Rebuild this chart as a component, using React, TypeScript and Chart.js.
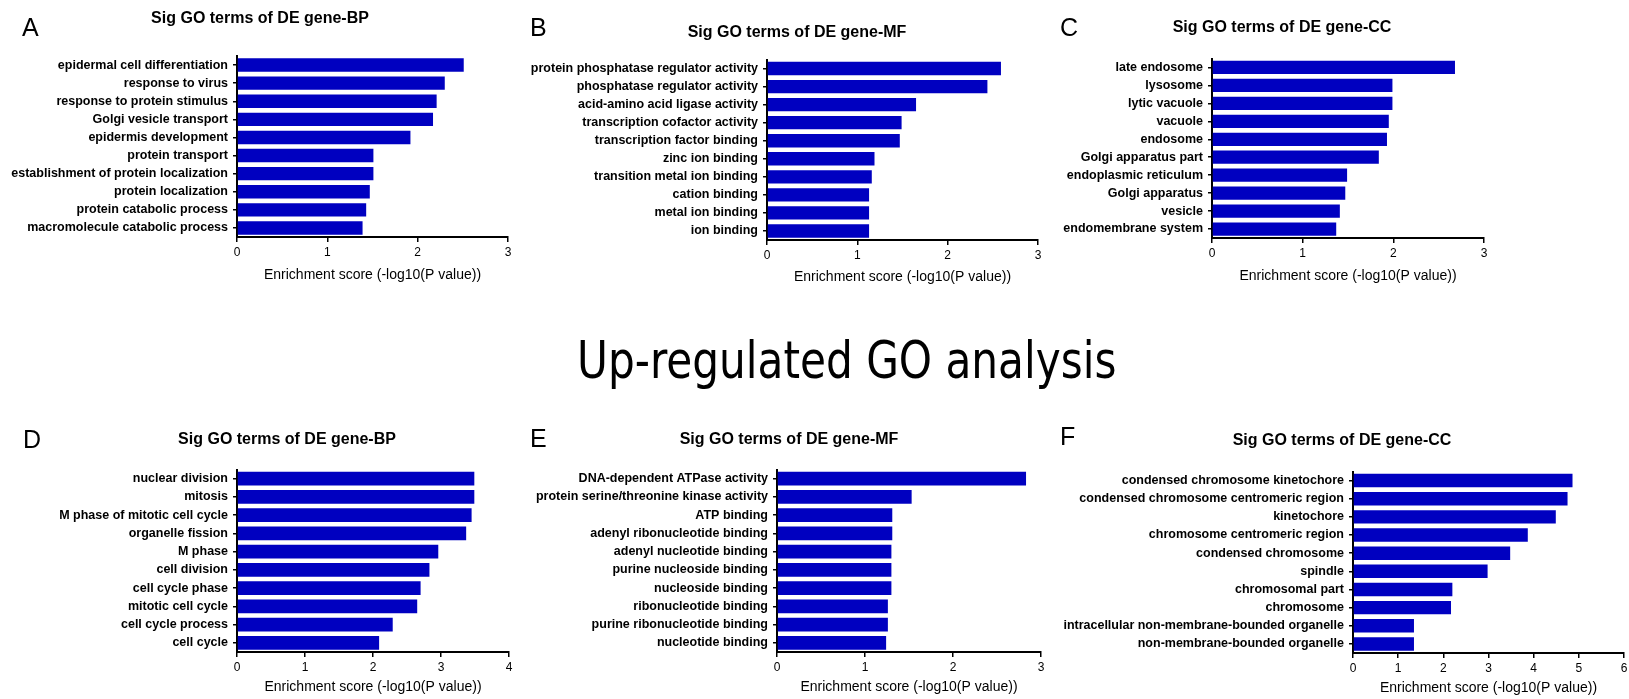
import React, { useEffect, useRef } from 'react';
import { Chart, registerables } from 'chart.js';

Chart.register(...registerables);

// ---------- DATA ----------
const titleBP = 'Sig GO terms of DE gene-BP';
const titleMF = 'Sig GO terms of DE gene-MF';
const titleCC = 'Sig GO terms of DE gene-CC';
const axisTitle = 'Enrichment score (-log10(P value))';
const heading = 'Up-regulated GO analysis';

const aLabels = [
  'epidermal cell differentiation',
  'response to virus',
  'response to protein stimulus',
  'Golgi vesicle transport',
  'epidermis development',
  'protein transport',
  'establishment of protein localization',
  'protein localization',
  'protein catabolic process',
  'macromolecule catabolic process',
];
const aValues = [2.51, 2.3, 2.21, 2.17, 1.92, 1.51, 1.51, 1.47, 1.43, 1.39];

const bLabels = [
  'protein phosphatase regulator activity',
  'phosphatase regulator activity',
  'acid-amino acid ligase activity',
  'transcription cofactor activity',
  'transcription factor binding',
  'zinc ion binding',
  'transition metal ion binding',
  'cation binding',
  'metal ion binding',
  'ion binding',
];
const bValues = [2.59, 2.44, 1.65, 1.49, 1.47, 1.19, 1.16, 1.13, 1.13, 1.13];

const cLabels = [
  'late endosome',
  'lysosome',
  'lytic vacuole',
  'vacuole',
  'endosome',
  'Golgi apparatus part',
  'endoplasmic reticulum',
  'Golgi apparatus',
  'vesicle',
  'endomembrane system',
];
const cValues = [2.68, 1.99, 1.99, 1.95, 1.93, 1.84, 1.49, 1.47, 1.41, 1.37];

const dLabels = [
  'nuclear division',
  'mitosis',
  'M phase of mitotic cell cycle',
  'organelle fission',
  'M phase',
  'cell division',
  'cell cycle phase',
  'mitotic cell cycle',
  'cell cycle process',
  'cell cycle',
];
const dValues = [3.49, 3.49, 3.45, 3.37, 2.96, 2.83, 2.7, 2.65, 2.29, 2.09];

const eLabels = [
  'DNA-dependent ATPase activity',
  'protein serine/threonine kinase activity',
  'ATP binding',
  'adenyl ribonucleotide binding',
  'adenyl nucleotide binding',
  'purine nucleoside binding',
  'nucleoside binding',
  'ribonucleotide binding',
  'purine ribonucleotide binding',
  'nucleotide binding',
];
const eValues = [2.83, 1.53, 1.31, 1.31, 1.3, 1.3, 1.3, 1.26, 1.26, 1.24];

const fLabels = [
  'condensed chromosome kinetochore',
  'condensed chromosome centromeric region',
  'kinetochore',
  'chromosome centromeric region',
  'condensed chromosome',
  'spindle',
  'chromosomal part',
  'chromosome',
  'intracellular non-membrane-bounded organelle',
  'non-membrane-bounded organelle',
];
const fValues = [4.86, 4.75, 4.49, 3.87, 3.48, 2.98, 2.2, 2.17, 1.35, 1.35];

const axisMaxTop = [3, 3, 3];
const axisMaxBottom = [4, 3, 6];

// ---------- LAYOUT / STYLE ----------
const FONT = '"Liberation Sans", Arial, Helvetica, sans-serif';
const BAR = '#0000c0';

type Panel = {
  letter: string;
  title: string;
  labels: string[];
  values: number[];
  max: number;
  canvas: { x: number; y: number; w: number; h: number };
  area: { l: number; r: number; t: number; b: number };
  titleAt: { x: number; y: number };
  letterAt: { x: number; y: number };
  axisTitleOffset: number;
};

const panels: Panel[] = [
  {
    letter: 'A', title: titleBP, labels: aLabels, values: aValues, max: axisMaxTop[0],
    canvas: { x: 0, y: 0, w: 540, h: 300 },
    area: { l: 237, r: 508, t: 56, b: 237 },
    titleAt: { x: 260, y: 18 }, letterAt: { x: 22, y: 27 }, axisTitleOffset: 38,
  },
  {
    letter: 'B', title: titleMF, labels: bLabels, values: bValues, max: axisMaxTop[1],
    canvas: { x: 530, y: 0, w: 530, h: 300 },
    area: { l: 767, r: 1038, t: 59.5, b: 240 },
    titleAt: { x: 797, y: 32 }, letterAt: { x: 530, y: 27 }, axisTitleOffset: 37,
  },
  {
    letter: 'C', title: titleCC, labels: cLabels, values: cValues, max: axisMaxTop[2],
    canvas: { x: 1060, y: 0, w: 569, h: 300 },
    area: { l: 1212, r: 1484, t: 58.5, b: 238 },
    titleAt: { x: 1282, y: 27 }, letterAt: { x: 1060, y: 27 }, axisTitleOffset: 38,
  },
  {
    letter: 'D', title: titleBP, labels: dLabels, values: dValues, max: axisMaxBottom[0],
    canvas: { x: 0, y: 400, w: 540, h: 299 },
    area: { l: 237, r: 509, t: 469.5, b: 652 },
    titleAt: { x: 287, y: 439 }, letterAt: { x: 23, y: 439 }, axisTitleOffset: 35,
  },
  {
    letter: 'E', title: titleMF, labels: eLabels, values: eValues, max: axisMaxBottom[1],
    canvas: { x: 530, y: 400, w: 530, h: 299 },
    area: { l: 777, r: 1041, t: 469.5, b: 652 },
    titleAt: { x: 789, y: 439 }, letterAt: { x: 530, y: 438 }, axisTitleOffset: 35,
  },
  {
    letter: 'F', title: titleCC, labels: fLabels, values: fValues, max: axisMaxBottom[2],
    canvas: { x: 1060, y: 400, w: 600, h: 299 },
    area: { l: 1353, r: 1624, t: 471.5, b: 653 },
    titleAt: { x: 1342, y: 440 }, letterAt: { x: 1060, y: 436 }, axisTitleOffset: 35,
  },
];

function BarPanel({ p }: { p: Panel }) {
  const ref = useRef<HTMLCanvasElement>(null);
  const c = p.canvas;
  useEffect(() => {
    const canvas = ref.current;
    if (!canvas) return;
    const H = p.axisTitleOffset + 8.4;
    const chart = new Chart(canvas, {
      type: 'bar',
      data: {
        labels: p.labels,
        datasets: [
          {
            data: p.values,
            backgroundColor: BAR,
            borderWidth: 0,
            categoryPercentage: 1,
            barPercentage: 0.74,
          },
        ],
      },
      options: {
        indexAxis: 'y',
        responsive: false,
        animation: false,
        devicePixelRatio: 1,
        layout: {
          padding: {
            left: 0,
            top: p.area.t - c.y,
            right: c.x + c.w - p.area.r,
            bottom: c.y + c.h - p.area.b - H,
          },
        },
        plugins: {
          legend: { display: false },
          tooltip: { enabled: false },
          title: { display: false },
        },
        scales: {
          y: {
            type: 'category',
            afterFit: (s: any) => {
              s.width = p.area.l - c.x;
            },
            grid: {
              display: true,
              drawOnChartArea: false,
              drawTicks: true,
              tickLength: 4,
              color: '#000',
              lineWidth: 1.5,
              offset: false,
            },
            border: { display: true, color: '#000', width: 2 },
            ticks: {
              autoSkip: false,
              padding: 5,
              color: '#000',
              font: { family: FONT, size: 12.5, weight: 'bold' },
            },
          },
          x: {
            type: 'linear',
            min: 0,
            max: p.max,
            afterFit: (s: any) => {
              s.height = H;
            },
            grid: {
              display: true,
              drawOnChartArea: false,
              drawTicks: true,
              tickLength: 5,
              color: '#000',
              lineWidth: 1.5,
            },
            border: { display: true, color: '#000', width: 2 },
            ticks: {
              stepSize: 1,
              maxRotation: 0,
              padding: 3,
              color: '#000',
              font: { family: FONT, size: 12 },
            },
            title: {
              display: true,
              text: axisTitle,
              color: '#000',
              font: { family: FONT, size: 14 },
              padding: 0,
            },
          },
        },
      } as any,
    });
    return () => chart.destroy();
  }, []);
  return (
    <>
      <canvas
        ref={ref}
        width={c.w}
        height={c.h}
        style={{ position: 'absolute', left: c.x, top: c.y, width: c.w, height: c.h }}
      />
      <div
        style={{
          position: 'absolute',
          left: p.titleAt.x - 200,
          width: 400,
          top: p.titleAt.y - 8,
          height: 16,
          lineHeight: '16px',
          textAlign: 'center',
          fontFamily: FONT,
          fontWeight: 'bold',
          fontSize: 16,
          color: '#000',
          whiteSpace: 'nowrap',
        }}
      >
        {p.title}
      </div>
      <div
        style={{
          position: 'absolute',
          left: p.letterAt.x,
          top: p.letterAt.y - 12.5,
          lineHeight: '25px',
          fontFamily: FONT,
          fontSize: 25,
          color: '#000',
        }}
      >
        {p.letter}
      </div>
    </>
  );
}

export default function App() {
  return (
    <div
      style={{
        position: 'absolute',
        left: 0,
        top: 0,
        width: 1629,
        height: 699,
        overflow: 'hidden',
        background: '#fff',
      }}
    >
      {panels.map((p) => (
        <BarPanel key={p.letter} p={p} />
      ))}
      <div
        style={{
          position: 'absolute',
          left: 577,
          top: 335,
          lineHeight: '51px',
          fontFamily: '"DejaVu Sans Condensed", "DejaVu Sans", sans-serif',
          fontStretch: 'condensed',
          fontSize: 51,
          color: '#000',
          whiteSpace: 'nowrap',
          transform: 'scaleX(0.92)',
          transformOrigin: 'left top',
        }}
      >
        {heading}
      </div>
    </div>
  );
}
